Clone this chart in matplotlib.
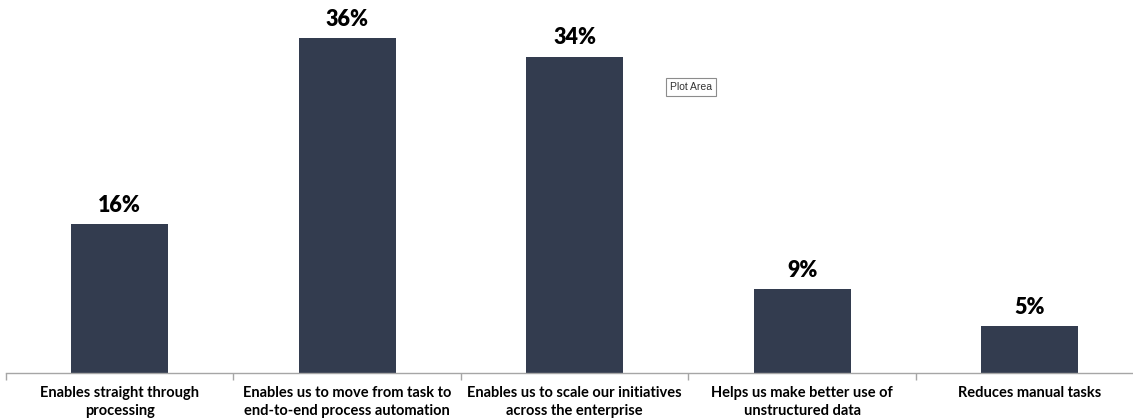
import numpy as np
import matplotlib.pyplot as plt

categories = [
    "Enables straight through\nprocessing",
    "Enables us to move from task to\nend-to-end process automation",
    "Enables us to scale our initiatives\nacross the enterprise",
    "Helps us make better use of\nunstructured data",
    "Reduces manual tasks",
]
values = [16, 36, 34, 9, 5]

bar_color = "#333c4f"
axis_color = "#a6a6a6"

plt.rcParams["font.family"] = ["Lato", "DejaVu Sans"]

W, H = 1133, 419
fig = plt.figure(figsize=(W / 100, H / 100), dpi=100)
# axes box in pixel terms: x from 6 to ~1143, baseline at y=373 from top
ax = fig.add_axes([6 / W, (H - 373) / H, 1137.5 / W, 373 / H])

x = np.arange(len(categories))
ax.bar(x, values, width=0.426, color=bar_color, zorder=2)

for xi, v in zip(x, values):
    ax.annotate(f"{v}%", (xi, v), xytext=(0, 6), textcoords="offset points",
                ha="center", va="bottom", fontsize=15.5, fontweight="heavy",
                color="black")

ax.set_xlim(-0.5, len(categories) - 0.5)
ax.set_ylim(0, 40.1)
ax.set_yticks([])

ax.set_xticks(x)
ax.set_xticklabels(categories, fontsize=10.5, fontweight="bold", linespacing=1.4)
ax.tick_params(axis="x", which="major", length=0, pad=9)
ax.set_xticks(np.arange(-0.5, len(categories), 1.0), minor=True)
ax.tick_params(axis="x", which="minor", length=5, width=1, color=axis_color)

for s in ["top", "right", "left"]:
    ax.spines[s].set_visible(False)
ax.spines["bottom"].set_color(axis_color)
ax.spines["bottom"].set_linewidth(1)

# Excel tooltip left in the screenshot
fig.text(670 / W, 1 - 87 / H, "Plot Area", fontsize=7.5, family=["Liberation Sans", "DejaVu Sans"],
         ha="left", va="center", color="#333333",
         bbox=dict(boxstyle="square,pad=0.35", fc="white", ec="#8c8c8c", lw=0.8))

fig.savefig("out.png", dpi=100)
